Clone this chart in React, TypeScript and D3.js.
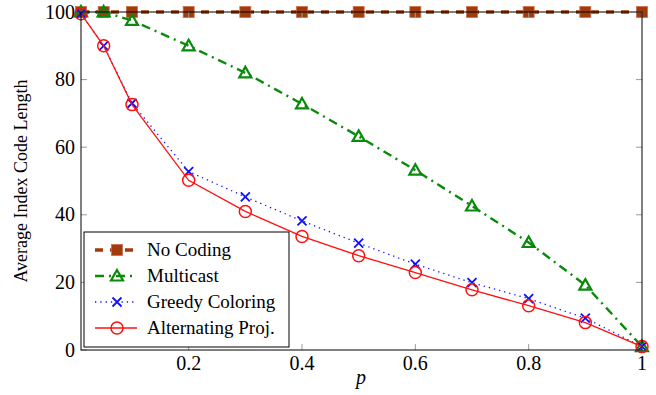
import React from 'react';
import * as d3 from 'd3';

const pValues = [0.01, 0.05, 0.1, 0.2, 0.3, 0.4, 0.5, 0.6, 0.7, 0.8, 0.9, 1];
const noCoding = [100, 100, 100, 100, 100, 100, 100, 100, 100, 100, 100, 100];
const multicast = [100, 100, 97.5, 90, 82, 72.8, 63.2, 53.2, 42.6, 31.8, 19.2, 1];
const greedy = [99.5, 90, 73, 52.8, 45.3, 38.2, 31.6, 25.4, 19.9, 15.2, 9.4, 1];
const alternating = [99.5, 90, 72.6, 50.2, 41, 33.6, 27.9, 22.9, 17.8, 13.1, 8.1, 1];
const xTicks = [0.2, 0.4, 0.6, 0.8, 1];
const yTicks = [0, 20, 40, 60, 80, 100];
const seriesNames = ['No Coding', 'Multicast', 'Greedy Coloring', 'Alternating Proj.'];

const W = 656, H = 395;
const margin = { left: 81, right: 14, top: 12, bottom: 45 };
const FONT = "'Liberation Serif', 'Times New Roman', 'DejaVu Serif'";

type Style = { color: string; width: number; dash: string | null; marker: string };
const styles: Style[] = [
    { color: '#a33a0b', width: 3.5, dash: '8,7', marker: 'square' },
    { color: '#0a8a0a', width: 2.4, dash: '9,5,2,5', marker: 'triangle' },
    { color: '#1010ff', width: 1.3, dash: '1.3,4', marker: 'cross' },
    { color: '#ff1010', width: 1.3, dash: null, marker: 'circle' },
];

function Marker({ kind, x, y, color }: { kind: string; x: number; y: number; color: string }) {
    if (kind === 'square') {
        return <rect x={x - 5.5} y={y - 5.5} width={11} height={11} fill={color} stroke="#c77050" strokeWidth={0.8} />;
    }
    if (kind === 'triangle') {
        const s = 6;
        return <path d={`M${x},${y - s} L${x + s},${y + s * 0.75} L${x - s},${y + s * 0.75}Z`} fill="none" stroke={color} strokeWidth={2.2} />;
    }
    if (kind === 'cross') {
        const s = 4.5;
        return <path d={`M${x - s},${y - s}L${x + s},${y + s}M${x - s},${y + s}L${x + s},${y - s}`} stroke={color} strokeWidth={1.8} />;
    }
    return <circle cx={x} cy={y} r={6} fill="none" stroke={color} strokeWidth={1.5} />;
}

export default function App() {
    const x = d3.scaleLinear().domain([0.01, 1]).range([margin.left, W - margin.right]);
    const y = d3.scaleLinear().domain([0, 100]).range([H - margin.bottom, margin.top]);
    const all = [noCoding, multicast, greedy, alternating];
    const line = d3.line<number>().x((_, i) => x(pValues[i])).y(d => y(d));
    const x0 = x.range()[0], x1 = x.range()[1];
    const y0 = y.range()[0], y1 = y.range()[1];
    const tickColor = '#999';
    const txt = { fontFamily: FONT };

    return (
        <svg width={W} height={H} style={{ position: 'absolute', left: 0, top: 0, background: '#fff', fontFamily: FONT }}>
            {/* series first, so text and legend sit on top */}
            {all.map((vals, si) => (
                <g key={'s' + si}>
                    <path d={line(vals) || ''} fill="none" stroke={styles[si].color} strokeWidth={styles[si].width}
                        strokeDasharray={styles[si].dash || undefined} />
                    {vals.map((v, i) => (
                        <Marker key={i} kind={styles[si].marker} x={x(pValues[i])} y={y(v)} color={styles[si].color} />
                    ))}
                </g>
            ))}

            {/* ticks (inward, all four sides) */}
            {xTicks.map(t => (
                <g key={'xt' + t}>
                    <line x1={x(t)} x2={x(t)} y1={y0} y2={y0 - 6} stroke={tickColor} strokeWidth={1} />
                    <line x1={x(t)} x2={x(t)} y1={y1} y2={y1 + 6} stroke={tickColor} strokeWidth={1} />
                    <text x={x(t)} y={y0 + 20} textAnchor="middle" fontSize={20} style={txt}>{t}</text>
                </g>
            ))}
            {yTicks.map(t => (
                <g key={'yt' + t}>
                    <line x1={x0} x2={x0 + 6} y1={y(t)} y2={y(t)} stroke={tickColor} strokeWidth={1} />
                    <line x1={x1} x2={x1 - 6} y1={y(t)} y2={y(t)} stroke={tickColor} strokeWidth={1} />
                    <text x={x0 - 6} y={y(t)} dy="0.33em" textAnchor="end" fontSize={20} style={txt}>{t}</text>
                </g>
            ))}
            <rect x={x0} y={y1} width={x1 - x0} height={y0 - y1} fill="none" stroke="#000" strokeWidth={1} />
            <text x={361} y={H - 11} textAnchor="middle" fontSize={20} fontStyle="italic" style={txt}>p</text>
            <text transform={`translate(21,${(y0 + y1) / 2}) rotate(-90)`} textAnchor="middle" dy="0.33em" fontSize={18} style={txt}>
                Average Index Code Length
            </text>

            {/* legend */}
            <rect x={84} y={232} width={205} height={115} fill="#fff" stroke="#000" strokeWidth={1} />
            {seriesNames.map((name, i) => (
                <g key={'lg' + i}>
                    <line x1={95} x2={137} y1={250 + i * 26} y2={250 + i * 26} stroke={styles[i].color} strokeWidth={styles[i].width}
                        strokeDasharray={styles[i].dash || undefined} />
                    <Marker kind={styles[i].marker} x={117} y={250 + i * 26} color={styles[i].color} />
                </g>
            ))}
            {seriesNames.map((name, i) => (
                <text key={'lt' + i} x={147} y={250 + i * 26} dy="0.33em" fontSize={19} style={txt}>{name}</text>
            ))}
        </svg>
    );
}
